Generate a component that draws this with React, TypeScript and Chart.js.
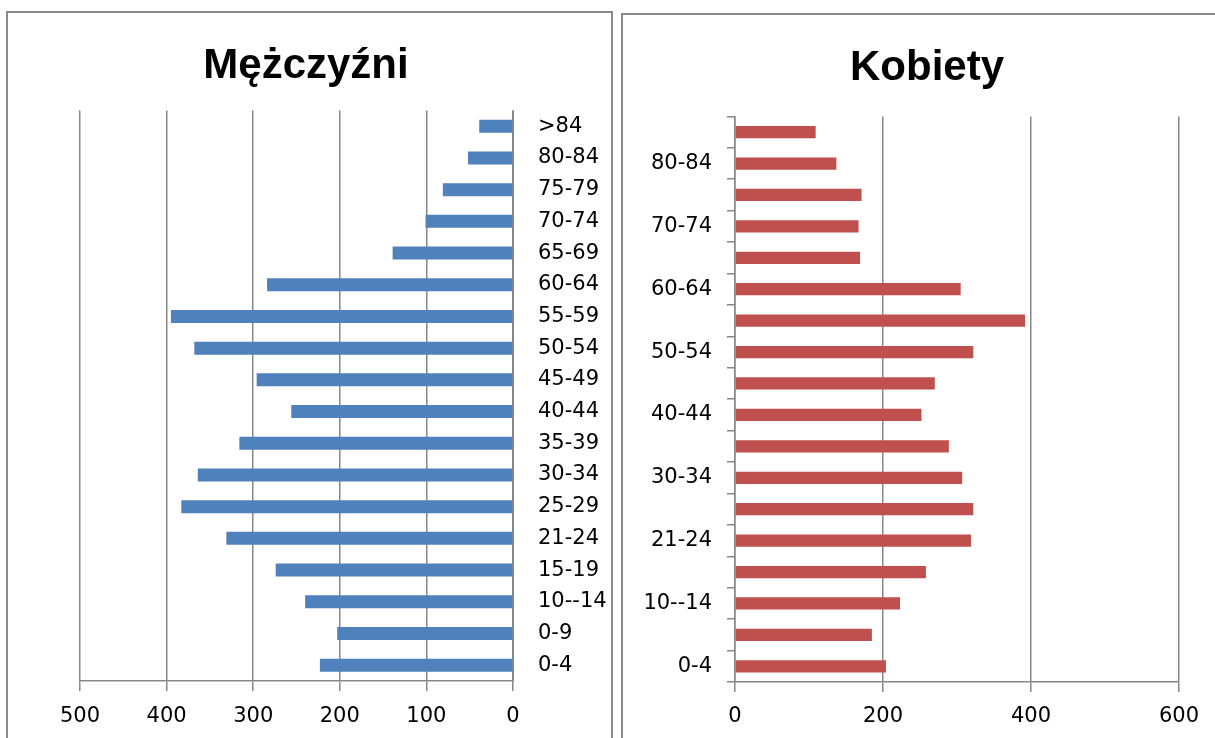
import React, { useEffect, useRef } from "react";
import { Chart, registerables } from "chart.js";

Chart.register(...registerables);

// Age groups, bottom to top
const categories = ["0-4", "0-9", "10--14", "15-19", "21-24", "25-29", "30-34", "35-39", "40-44", "45-49", "50-54", "55-59", "60-64", "65-69", "70-74", "75-79", "80-84", ">84"];
const menValues = [223, 203, 240, 274, 331, 383, 364, 316, 256, 296, 368, 395, 284, 139, 101, 81, 52, 39];
const womenValues = [204, 185, 223, 258, 319, 322, 307, 289, 252, 270, 322, 392, 305, 169, 167, 171, 137, 109];
const menTitle = "Mężczyźni";
const womenTitle = "Kobiety";
const menTicks = { min: 0, max: 500, step: 100 };
const womenTicks = { min: 0, max: 600, step: 200 };

const GRID = "#878787";
const TICK_FONT = { family: "'DejaVu Sans', sans-serif", size: 21 };
const TITLE_FONT = { family: "'Liberation Sans', Arial, sans-serif", size: 42, weight: "bold" as const };

// invisible spacer axis to reserve room without shifting the centred title
const spacer = (position: "left" | "right", width: number) => ({
  type: "linear" as const,
  axis: "y" as const,
  position,
  display: true,
  grid: { display: false, drawTicks: false },
  border: { display: false },
  ticks: { display: false },
  afterFit: (s: any) => { s.width = width; },
});

function MenChart() {
  const ref = useRef<HTMLCanvasElement | null>(null);
  useEffect(() => {
    const chart = new Chart(ref.current!, {
      type: "bar",
      data: {
        labels: categories,
        datasets: [{ data: menValues, backgroundColor: "#4F81BD", barPercentage: 1, categoryPercentage: 0.41 }],
      },
      options: {
        indexAxis: "y",
        responsive: false,
        animation: false,
        devicePixelRatio: 1,
        layout: { padding: 0 },
        plugins: {
          legend: { display: false },
          tooltip: { enabled: false },
          title: { display: true, text: menTitle, font: TITLE_FONT, color: "#000", padding: { top: 41, bottom: 19 } },
        },
        scales: {
          x: {
            reverse: true,
            min: menTicks.min,
            max: menTicks.max,
            ticks: { stepSize: menTicks.step, color: "#000", font: TICK_FONT, padding: 13 },
            grid: { color: GRID, lineWidth: 1.5, tickLength: 10, drawTicks: true },
            border: { display: true, color: GRID, width: 1.5 },
            afterFit: (s: any) => { s.height = 57; },
          },
          y: {
            position: "right",
            reverse: true,
            ticks: { color: "#000", font: TICK_FONT, padding: 25, autoSkip: false },
            grid: { display: false, drawTicks: false },
            border: { display: true, color: GRID, width: 1 },
            afterFit: (s: any) => { s.width = 99; },
          },
          pad: spacer("left", 80) as any,
        },
      },
    });
    return () => chart.destroy();
  }, []);
  return <canvas ref={ref} width={612} height={738} style={{ position: "absolute", left: 0, top: 0, width: 612, height: 738 }} />;
}

function WomenChart() {
  const ref = useRef<HTMLCanvasElement | null>(null);
  useEffect(() => {
    const chart = new Chart(ref.current!, {
      type: "bar",
      data: {
        labels: categories,
        datasets: [{ data: womenValues, backgroundColor: "#C0504D", barPercentage: 1, categoryPercentage: 0.39 }],
      },
      options: {
        indexAxis: "y",
        responsive: false,
        animation: false,
        devicePixelRatio: 1,
        layout: { padding: 0 },
        plugins: {
          legend: { display: false },
          tooltip: { enabled: false },
          title: { display: true, text: womenTitle, font: TITLE_FONT, color: "#000", padding: { top: 43, bottom: 23 } },
        },
        scales: {
          x: {
            min: womenTicks.min,
            max: womenTicks.max,
            ticks: { stepSize: womenTicks.step, color: "#000", font: TICK_FONT, padding: 12 },
            grid: { color: GRID, lineWidth: 1.5, tickLength: 10, drawTicks: true },
            border: { display: true, color: GRID, width: 1.5 },
            afterFit: (s: any) => { s.height = 56; },
          },
          y: {
            position: "left",
            reverse: true,
            ticks: {
              color: "#000",
              font: TICK_FONT,
              padding: 15,
              autoSkip: false,
              callback: (_v: any, i: number) => (i % 2 === 0 ? categories[i] : ""),
            },
            grid: { display: true, drawOnChartArea: false, drawTicks: true, tickLength: 8, color: GRID, lineWidth: 1.5 },
            border: { display: true, color: GRID, width: 1.5 },
            afterFit: (s: any) => { s.width = 113; },
          },
          pad: spacer("right", 53) as any,
        },
      },
    });
    return () => chart.destroy();
  }, []);
  return <canvas ref={ref} width={610} height={738} style={{ position: "absolute", left: 622, top: 0, width: 610, height: 738 }} />;
}

export default function App() {
  return (
    <div style={{ position: "absolute", left: 0, top: 0, width: 1215, height: 738, overflow: "hidden", background: "#fff" }}>
      <MenChart />
      <WomenChart />
      <div style={{ position: "absolute", left: 6, top: 11, width: 607, height: 800, border: "2px solid #8a8a8a", boxSizing: "border-box", pointerEvents: "none" }} />
      <div style={{ position: "absolute", left: 621, top: 13, width: 640, height: 800, border: "2px solid #8a8a8a", boxSizing: "border-box", pointerEvents: "none" }} />
    </div>
  );
}
